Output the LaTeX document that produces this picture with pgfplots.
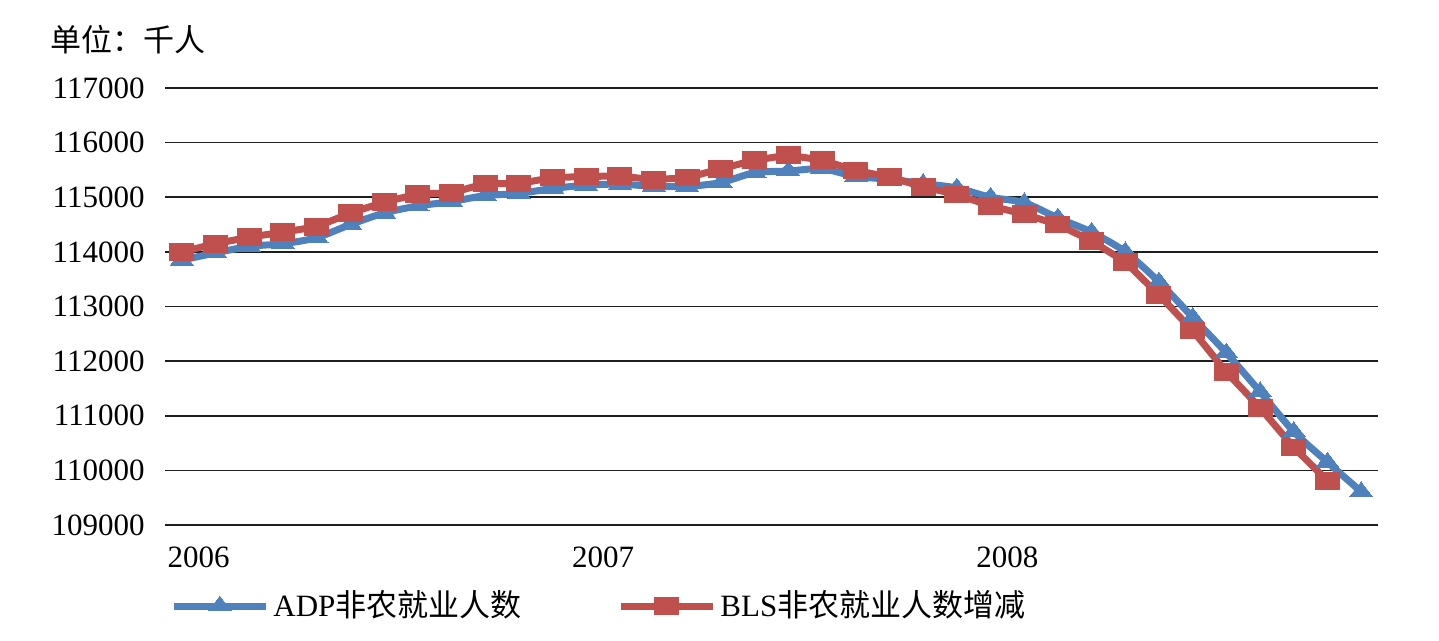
\documentclass[border=0pt]{standalone}
\usepackage{fontspec}
\setmainfont{Liberation Serif}
\newfontfamily\cjk{Noto Sans CJK SC}
\usepackage{pgfplots}
\pgfplotsset{compat=1.18}
\definecolor{adp}{RGB}{79,129,189}
\definecolor{bls}{RGB}{192,80,77}
\definecolor{gridc}{RGB}{30,30,30}
\begin{document}
\fontsize{15.5}{18}\selectfont
\begin{tikzpicture}
\path[use as bounding box] (0,0) rectangle (719.5pt,320.5pt);
\node[anchor=west,inner sep=0pt] at (25pt,300.5pt) {\cjk 单位：千人};
\begin{axis}[
  at={(82.5pt,58pt)}, anchor=south west,
  scale only axis, width=606.5pt, height=218.5pt,
  xmin=-0.5, xmax=35.5, ymin=109000, ymax=117000,
  clip=false,
  axis line style={draw=none},
  major tick length=0pt,
  ytick={109000,110000,...,117000},
  ymajorgrids, grid style={gridc, line width=0.8pt},
  xtick={0.5,12.5,24.5}, xticklabels={2006,2007,2008},
  scaled y ticks=false,
  /pgf/number format/assume math mode=true,
  y tick label style={/pgf/number format/.cd, fixed, precision=0, set thousands separator={}, /tikz/.cd, inner sep=0pt, xshift=-10pt, font=\fontsize{15.5}{18}\selectfont},
  x tick label style={inner sep=0pt, anchor=center, yshift=-16pt, font=\fontsize{15.5}{18}\selectfont},
  legend columns=2,
  legend style={at={(0.0041,-0.1854)}, anchor=west, draw=none, fill=none, inner sep=0pt, font=\fontsize{15.5}{18}\selectfont,
    /tikz/every even column/.append style={column sep=46pt}},
  legend image code/.code={\draw[mark repeat=2,mark phase=2,#1] plot coordinates {(0pt,0pt)(23pt,0pt)(46pt,0pt)};},
]
\addplot[color=adp, line width=3.5pt, smooth, mark=triangle*, mark size=6.6pt, mark options={solid, yscale=0.75, line width=0pt}] coordinates {
(0,113850)(1,113980)(2,114100)(3,114150)(4,114260)(5,114500)(6,114710)(7,114840)(8,114920)(9,115030)(10,115070)(11,115160)
(12,115220)(13,115240)(14,115200)(15,115200)(16,115270)(17,115450)(18,115480)(19,115520)(20,115380)(21,115330)(22,115250)(23,115170)
(24,115000)(25,114900)(26,114620)(27,114360)(28,114000)(29,113450)(30,112800)(31,112150)(32,111440)(33,110710)(34,110150)(35,109610)
};
\addlegendentry{ADP{\cjk 非农就业人数}}
\addplot[color=bls, line width=3.5pt, mark=square*, mark size=6pt, mark options={solid, yscale=0.7, line width=0pt}] coordinates {
(0,114000)(1,114150)(2,114270)(3,114360)(4,114460)(5,114710)(6,114910)(7,115060)(8,115080)(9,115250)(10,115250)(11,115360)
(12,115380)(13,115390)(14,115320)(15,115360)(16,115520)(17,115680)(18,115770)(19,115680)(20,115490)(21,115370)(22,115190)(23,115050)
(24,114840)(25,114690)(26,114500)(27,114200)(28,113815)(29,113210)(30,112560)(31,111800)(32,111145)(33,110420)(34,109810)
};
\addlegendentry{BLS{\cjk 非农就业人数增减}}
\end{axis}
\end{tikzpicture}
\end{document}
